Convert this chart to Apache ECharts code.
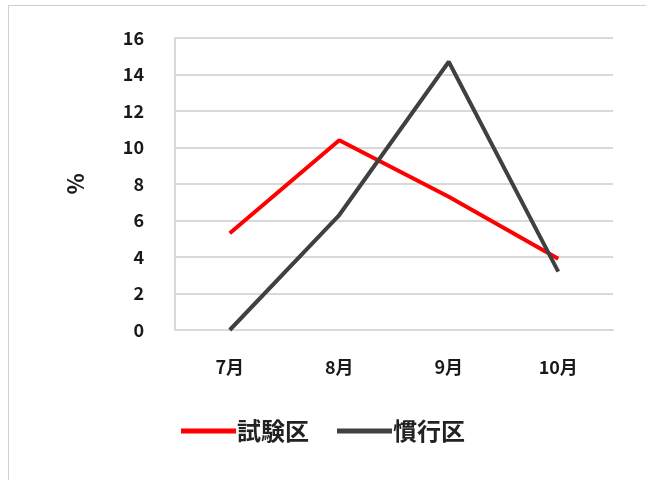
<!DOCTYPE html>
<html>
<head>
<meta charset="utf-8">
<script src="https://cdn.jsdelivr.net/npm/echarts@6/dist/echarts.min.js"></script>
<style>
  html, body { margin: 0; padding: 0; background: #fff; }
  #frame { position: absolute; left: 8px; top: 5px; width: 640px; height: 480px; border: 1px solid #d0d0d0; box-sizing: border-box; }
  #chart { position: absolute; left: 0; top: 0; width: 646px; height: 480px; }
</style>
</head>
<body>
<div id="frame"></div>
<div id="chart"></div>
<script>
const months = ['7月', '8月', '9月', '10月']
const shikenku = [5.3, 10.4, 7.3, 3.9]
const kankoku = [0, 6.3, 14.7, 3.2]
const seriesNames = ['試験区', '慣行区']

const chart = echarts.init(document.getElementById('chart'))
const font = '"Noto Sans CJK JP", "Noto Sans", sans-serif'

const option = {
  color: ['#ff0000', '#404040'],
  grid: { left: 175, right: 33, top: 38, bottom: 150 },
  legend: {
    data: seriesNames,
    bottom: 32,
    left: 'center',
    icon: 'rect',
    itemWidth: 55,
    itemHeight: 5,
    itemGap: 28,
    textStyle: { fontFamily: font, fontSize: 24, fontWeight: 'bold', color: '#222', padding: [0, 0, 0, -4] }
  },
  xAxis: {
    type: 'category',
    data: months,
    boundaryGap: true,
    axisLine: { lineStyle: { color: '#d9d9d9', width: 2 } },
    axisTick: { show: false },
    axisLabel: { margin: 28, fontFamily: font, fontSize: 18, fontWeight: 'bold', color: '#1a1a1a' }
  },
  yAxis: {
    type: 'value',
    min: 0,
    max: 16,
    interval: 2,
    name: '%',
    nameLocation: 'middle',
    nameRotate: 90,
    nameGap: 88,
    nameTextStyle: { fontFamily: font, fontSize: 22, fontWeight: 'bold', color: '#1a1a1a' },
    axisLine: { show: true, lineStyle: { color: '#d9d9d9', width: 2 } },
    axisTick: { show: false },
    splitLine: { lineStyle: { color: '#d9d9d9', width: 2 } },
    axisLabel: { margin: 31, fontFamily: font, fontSize: 18, fontWeight: 'bold', color: '#1a1a1a' }
  },
  series: [
    {
      name: seriesNames[0],
      type: 'line',
      data: shikenku,
      showSymbol: false,
      lineStyle: { width: 4 }
    },
    {
      name: seriesNames[1],
      type: 'line',
      data: kankoku,
      showSymbol: false,
      lineStyle: { width: 4 }
    }
  ]
}

chart.setOption(option, true)
window.addEventListener('resize', () => {
  chart.resize()
})
</script>
</body>
</html>
